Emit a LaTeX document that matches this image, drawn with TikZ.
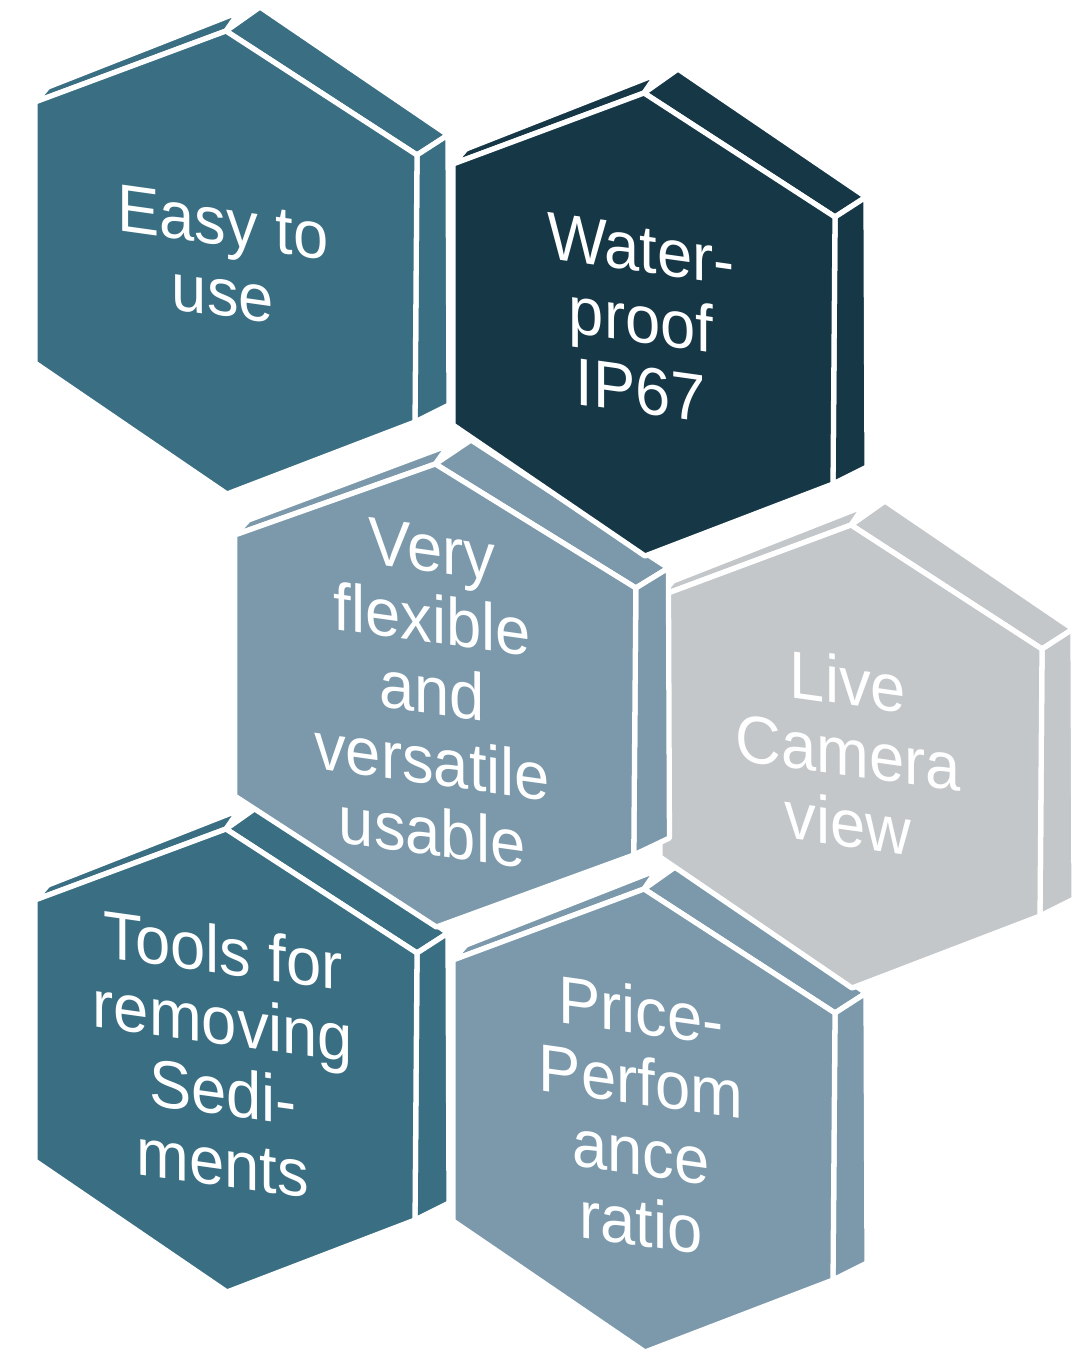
\documentclass[tikz,border=0pt]{standalone}
\usepackage{fontspec}
\setmainfont{Liberation Sans}
\definecolor{hexteal}{HTML}{3A6E82}
\definecolor{hexdark}{HTML}{163746}
\definecolor{hexsteel}{HTML}{7B99AB}
\definecolor{hexgrey}{HTML}{C3C7CA}
\tikzset{
  hexface/.style={fill=#1, draw=white, line width=1.5pt, line join=round},
  hexlabel/.style={text=white, align=center, inner sep=0pt,
    font=\fontsize{18}{19}\selectfont, transform shape, yslant=-0.14, yscale=1.06},
}
\begin{document}
\begin{tikzpicture}[x=0.01cm, y=-0.01cm]
  \useasboundingbox (0,0) rectangle (1089,1349);
  % lower cells first, upper ones overlap them
  \foreach \dx/\dy/\sx/\col/\name/\txt in {
      418/858/1/hexsteel/price/{Price-\\Perfom\\ance\\ratio},
      0/798/1/hexteal/tools/{Tools for\\removing\\Sedi-\\ments},
      625/494/1/hexgrey/camera/{Live\\Camera\\view},
      198/433/1.05/hexsteel/flexible/{Very\\flexible\\and\\versatile\\usable},
      418/62/1/hexdark/water/{Water-\\proof\\IP67},
      0/0/1/hexteal/easy/{Easy to\\use}} {
    \begin{scope}[shift={(\dx,\dy)}]
      \begin{scope}[xscale=\sx]
        % side faces
        \path[hexface=\col] (35,102) -- (48,87) -- (239,12) -- (226,31) -- cycle;
        \path[hexface=\col] (226,31) -- (260,7) -- (448,135) -- (417,155) -- cycle;
        \path[hexface=\col] (417,155) -- (448,135) -- (449,405) -- (415,422) -- cycle;
        % front face
        \path[hexface=\col] (35,102) -- (226,31) -- (417,155) -- (415,422)
          -- (227,494) -- (35,363) -- cycle;
      \end{scope}
      \node[hexlabel] (\name) at ({223*\sx},258) {\txt};
    \end{scope}
  }
\end{tikzpicture}
\end{document}
